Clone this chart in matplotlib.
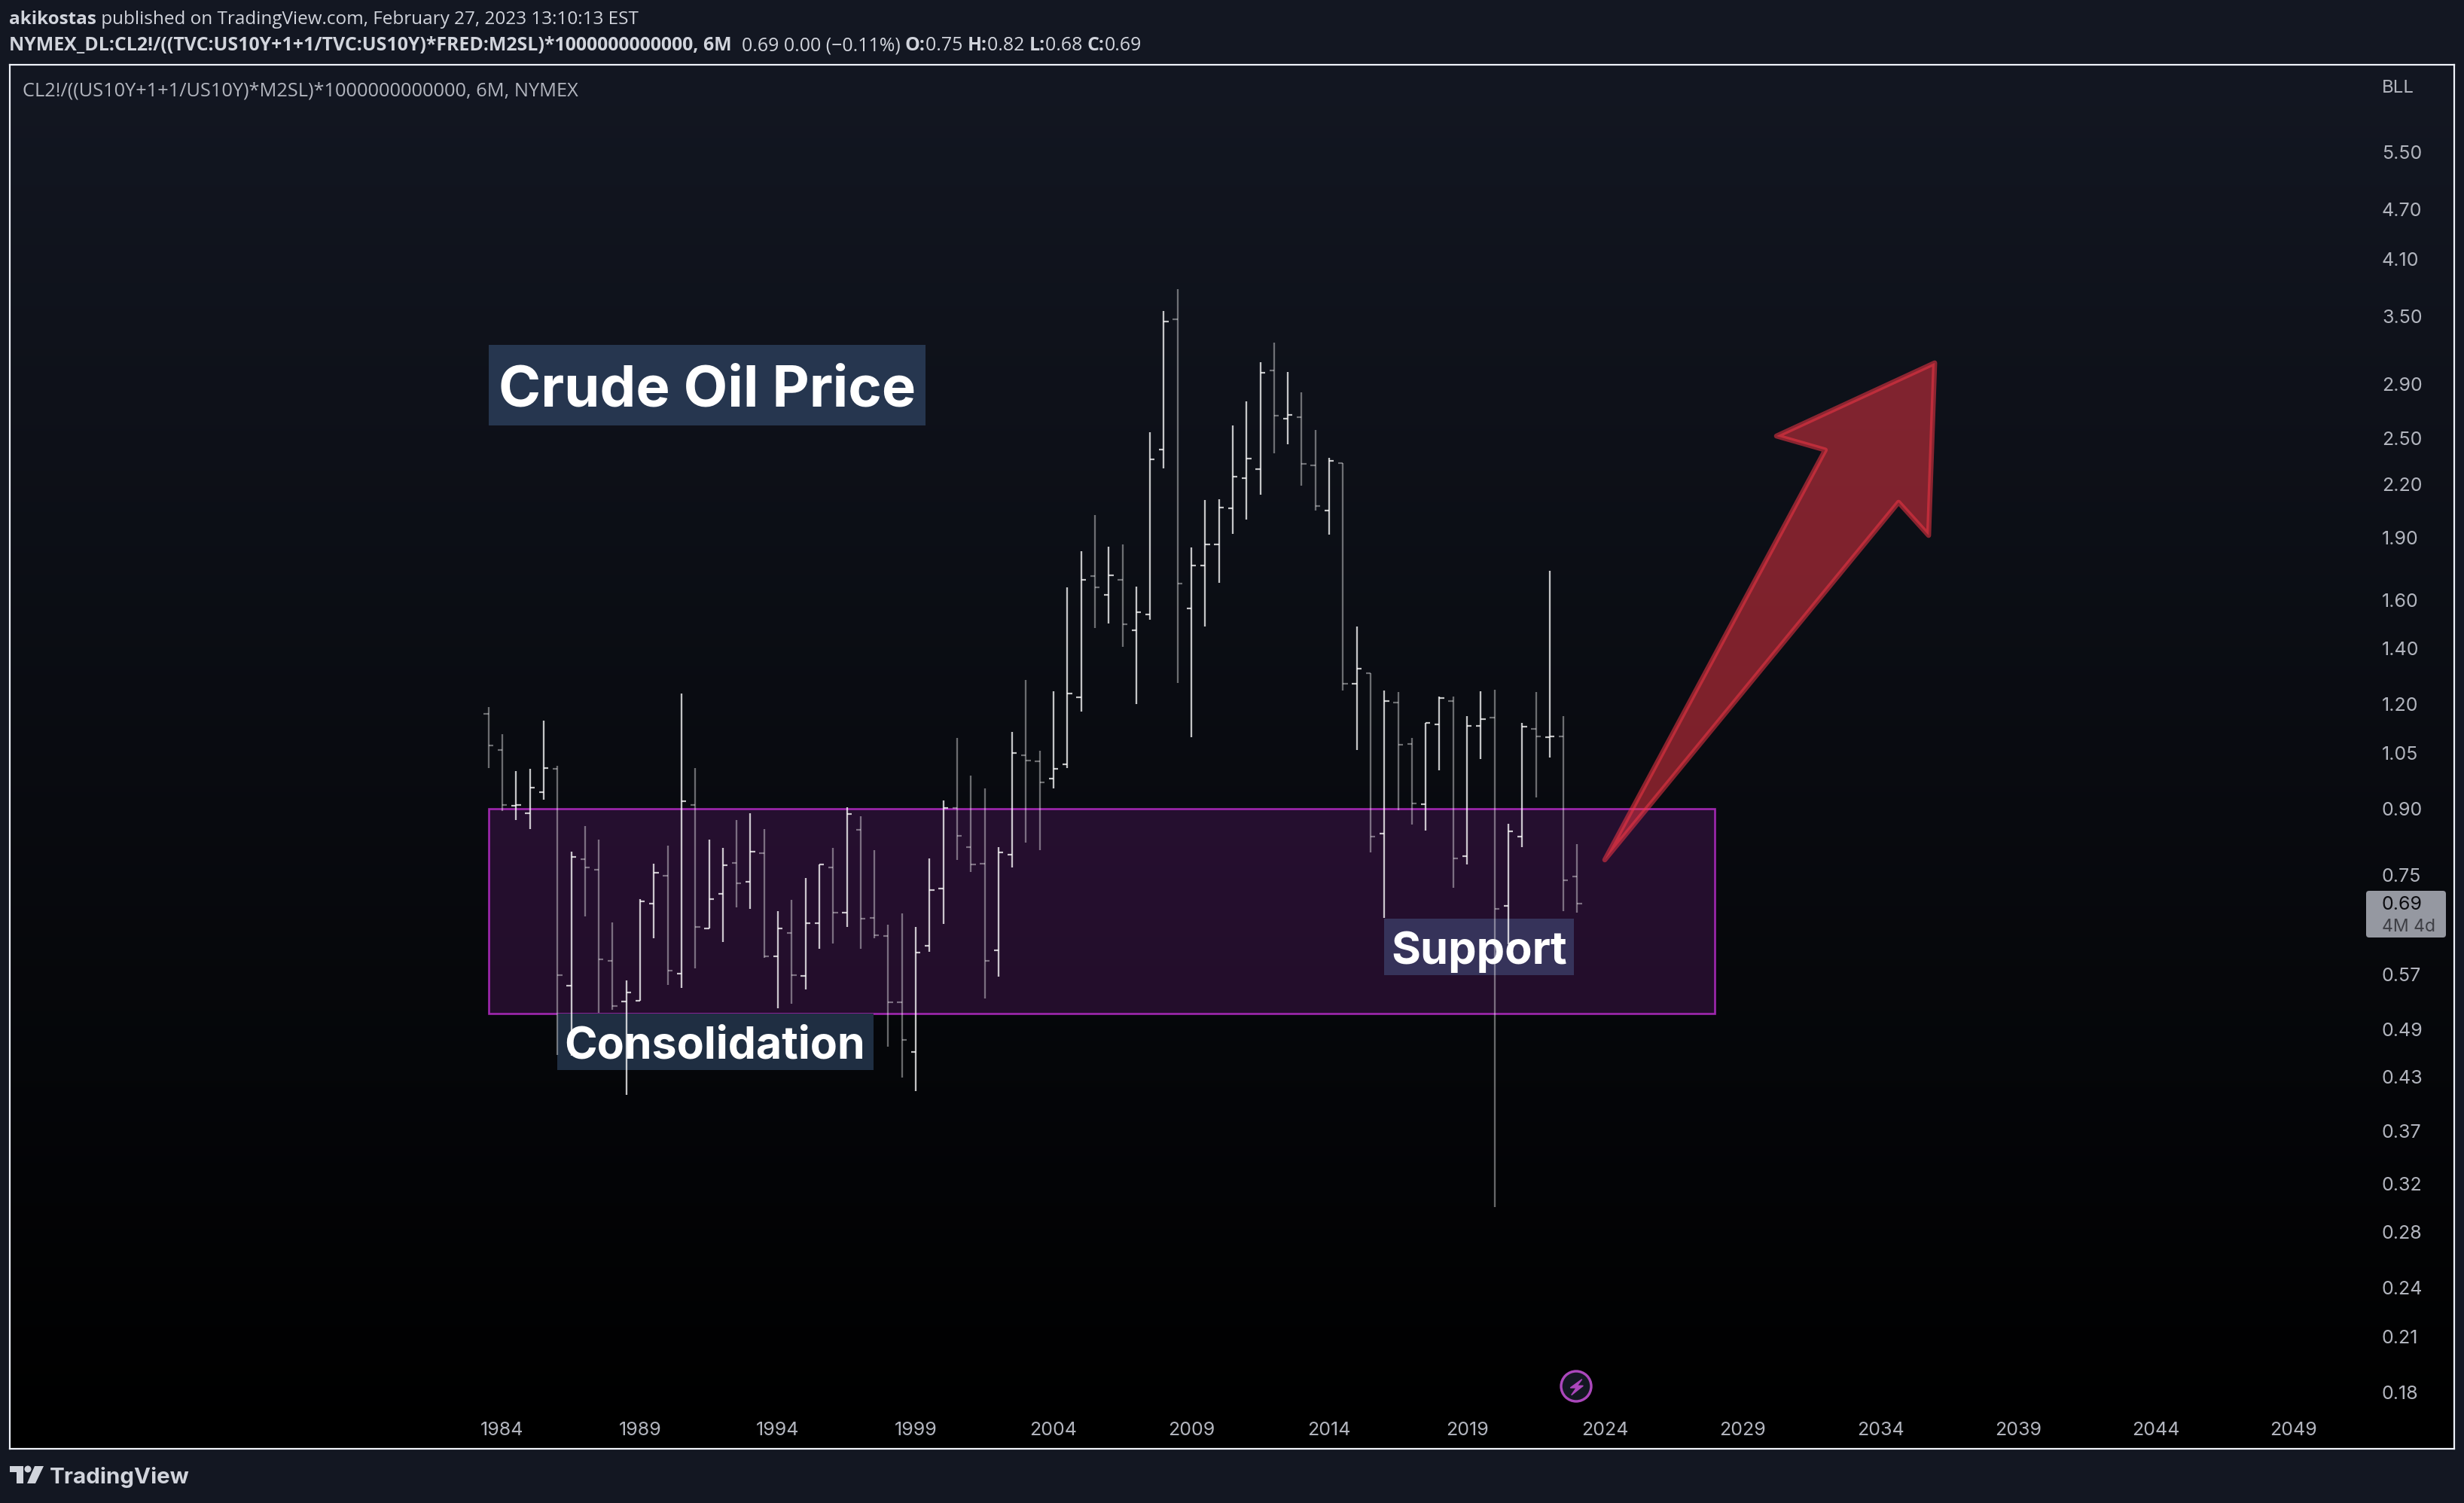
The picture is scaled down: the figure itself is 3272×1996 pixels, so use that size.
import numpy as np, matplotlib
matplotlib.use("Agg")
import matplotlib.pyplot as plt
from matplotlib.patches import Rectangle, Polygon, Circle, FancyBboxPatch
from matplotlib.transforms import IdentityTransform
from matplotlib.ticker import NullLocator, FixedLocator, FixedFormatter

first_period = 1983.5
period_years = 0.5
opens = [1.170,1.057,0.908,0.889,0.942,1.005,0.552,0.783,0.761,0.591,0.529,0.530,0.692,0.748,0.571,0.909,0.647,0.712,0.775,0.736,
         0.796,0.599,0.639,0.568,0.656,0.766,0.676,0.849,0.666,0.634,0.528,0.460,0.617,0.722,0.901,0.810,0.774,0.609,0.793,1.043,
         1.026,0.977,1.018,1.224,1.710,1.623,1.692,1.473,1.538,2.424,3.471,1.562,1.760,1.866,2.061,2.239,2.297,3.015,2.638,2.650,
         2.320,2.046,2.334,1.271,1.307,0.840,1.207,1.076,0.911,1.136,1.212,0.789,1.131,1.157,0.688,0.834,1.122,1.096,1.099,0.747]
highs = [1.190,1.106,0.999,1.005,1.147,1.012,0.799,0.857,0.826,0.657,0.560,0.702,0.773,0.812,1.236,1.006,0.826,0.807,0.873,0.888,
         0.850,0.679,0.700,0.743,0.772,0.807,0.903,0.882,0.802,0.654,0.674,0.649,0.784,0.920,1.093,0.985,0.951,0.809,1.112,1.283,
         1.055,1.244,1.657,1.830,2.023,1.854,1.866,1.661,2.540,3.549,3.769,1.849,2.107,2.112,2.588,2.766,3.080,3.252,2.999,2.835,
         2.555,2.367,2.336,1.487,1.307,1.247,1.241,1.093,1.140,1.225,1.225,1.161,1.243,1.249,0.863,1.140,1.241,1.733,1.161,0.817]
lows = [1.007,0.894,0.873,0.850,0.923,0.456,0.455,0.668,0.513,0.517,0.409,0.530,0.630,0.554,0.549,0.580,0.647,0.623,0.686,0.682,
        0.596,0.519,0.526,0.547,0.612,0.621,0.650,0.612,0.630,0.467,0.429,0.413,0.606,0.655,0.781,0.756,0.533,0.566,0.765,0.820,
        0.802,0.951,1.007,1.177,1.482,1.500,1.407,1.202,1.516,2.302,1.274,1.097,1.486,1.679,1.922,1.999,2.137,2.399,2.460,2.195,
        2.046,1.918,1.246,1.057,0.797,0.666,0.897,0.862,0.848,1.001,0.724,0.772,1.031,0.300,0.619,0.810,0.929,1.037,0.679,0.675]
closes = [1.072,0.910,0.910,0.954,1.007,0.569,0.788,0.766,0.594,0.522,0.542,0.697,0.754,0.576,0.919,0.650,0.702,0.770,0.733,0.799,
          0.599,0.647,0.569,0.656,0.772,0.676,0.886,0.665,0.635,0.528,0.476,0.605,0.719,0.901,0.835,0.771,0.591,0.798,1.050,1.028,
          0.968,1.005,1.237,1.692,1.657,1.713,1.497,1.548,2.359,3.451,1.674,1.760,1.866,2.065,2.249,2.364,2.995,2.662,2.666,2.329,
          2.075,2.350,1.269,1.323,0.834,1.212,1.074,0.913,1.140,1.221,0.785,1.131,1.152,0.683,0.846,1.129,1.099,1.099,0.739,0.693]
price_ticks = [5.50,4.70,4.10,3.50,2.90,2.50,2.20,1.90,1.60,1.40,1.20,1.05,0.90,0.75,0.57,0.49,0.43,0.37,0.32,0.28,0.24,0.21,0.18]
year_ticks = [1984,1989,1994,1999,2004,2009,2014,2019,2024,2029,2034,2039,2044,2049]
zone_years = [1983.5, 2028.0]
zone_prices = [0.5116, 0.90]
arrow_years = [2024.0,2032.0,2030.23,2035.97,2035.75,2034.66]
arrow_prices = [0.7815,2.42,2.515,3.077,1.912,2.095]

W,H = 3272,1996
BG='#131722'
SANS='Open Sans'
INTER='Inter'
pt = lambda px: px*72/100

fig = plt.figure(figsize=(W/100,H/100),dpi=100,facecolor=BG)
L,R,T,B = 13,3259,86,1923.5
rect=[L/W,1-B/H,(R-L)/W,(B-T)/H]
bgax=fig.add_axes(rect,zorder=-1); bgax.axis('off')
top=np.array([0x13,0x17,0x22])/255
grad=np.linspace(0,1,512)[:,None,None]*(-top)+top
bgax.imshow(grad,aspect='auto',interpolation='bilinear')

ax=fig.add_axes(rect); ax.patch.set_visible(False)
ax.set_yscale('log')
ax.set_xlim(1966.13,2054.82); ax.set_ylim(0.1542,7.001)

# zone
ax.add_patch(Rectangle((zone_years[0],zone_prices[0]),zone_years[1]-zone_years[0],zone_prices[1]-zone_prices[0],
    facecolor=(156/255,39/255,176/255,0.2),edgecolor=(0.66,0.16,0.72,0.95),linewidth=pt(2.6),zorder=1))

# label backgrounds (pixel placed annotations)
I=IdentityTransform()
def box(x0,y0,x1,y1,c,z=2):
    ax.add_patch(Rectangle((x0,H-y1),x1-x0,y1-y0,transform=I,facecolor=c,edgecolor='none',zorder=z))
box(649,458,1229,565,'#26364F')
box(740,1346,1160,1421,'#1F2E42')
box(1838,1220,2090,1295,'#36335A')

# bars
x=first_period+np.arange(len(opens))*period_years
o,h,l,c=map(np.array,(opens,highs,lows,closes))
up=c>=o
tick=0.172
for mask,alpha in ((up,0.76),(~up,0.40)):
    col=(1,1,1,alpha)
    ax.vlines(x[mask],l[mask],h[mask],colors=[col],linewidths=pt(2.3),capstyle='butt',zorder=3)
    ax.hlines(o[mask],x[mask]-tick,x[mask],colors=[col],linewidths=pt(2.2),capstyle='butt',zorder=3)
    ax.hlines(c[mask],x[mask],x[mask]+tick,colors=[col],linewidths=pt(2.2),capstyle='butt',zorder=3)

# arrow
red=(242/255,54/255,69/255)
pts=list(zip(arrow_years,arrow_prices))
ax.add_patch(Polygon(pts,closed=True,facecolor=red+(0.5,),edgecolor='none',zorder=4))
ax.add_patch(Polygon(pts,closed=True,facecolor='none',edgecolor=red+(0.55,),linewidth=pt(6.6),joinstyle='round',zorder=4))

# axes
for s in ax.spines.values():
    s.set_color('#F0F3FA'); s.set_linewidth(pt(2.2)); s.set_zorder(10)
ax.yaxis.tick_right()
ax.yaxis.set_major_locator(FixedLocator(price_ticks))
ax.yaxis.set_major_formatter(FixedFormatter([f"{v:.2f}" for v in price_ticks]))
ax.yaxis.set_minor_locator(NullLocator())
ax.xaxis.set_major_locator(FixedLocator(year_ticks))
ax.xaxis.set_major_formatter(FixedFormatter([str(y) for y in year_ticks]))
ax.xaxis.set_minor_locator(NullLocator())
ax.tick_params(axis='y',length=0,pad=-pt(96),labelcolor='#B2B5BE')
ax.tick_params(axis='x',length=0,pad=-pt(35.5),labelcolor='#B2B5BE')
for t in ax.get_yticklabels()+ax.get_xticklabels():
    t.set_fontfamily(INTER); t.set_fontsize(pt(25))
for t in ax.get_yticklabels():
    t.set_verticalalignment('center_baseline')

def text(xp,yp,s,size,color='#D1D4DC',family=SANS,weight='normal',ha='left',va='center',z=6):
    return ax.text(xp,H-yp,s,transform=I,fontsize=pt(size),color=color,family=family,weight=weight,ha=ha,va=va,zorder=z,clip_on=False)

# big labels
text(939,512,'Crude Oil Price',76,color='white',family=INTER,weight='bold',ha='center',va='center_baseline')
text(949,1384,'Consolidation',59,color='white',family=INTER,weight='bold',ha='center',va='center_baseline')
text(1964,1258,'Support',59.5,color='white',family=INTER,weight='bold',ha='center',va='center_baseline')

# price tag
ax.add_patch(FancyBboxPatch((3145,H-1245+3),100,56,boxstyle='round,pad=3,rounding_size=4',transform=I,facecolor='#9598A1',edgecolor='none',zorder=6))
text(3163,1202,'0.69',25,color='#0C0C10',family=INTER,z=7)
text(3163,1231,'4M 4d',23,color='#3E3F45',family=INTER,z=7)
text(3163,117,'BLL',24,color='#B2B5BE',family=INTER)
text(30,121,'CL2!/((US10Y+1+1/US10Y)*M2SL)*1000000000000, 6M, NYMEX',25.4,color='#B2B5BE')

# header runs
r=fig.canvas.get_renderer()
def run(xp,yp,parts,size):
    for s,weight,col in parts:
        t=text(xp,yp,s,size,color=col,weight=weight,va='baseline')
        fp=t.get_fontproperties()
        w,_,_=r.get_text_width_height_descent(s,fp,False)
        xp+=w
HC='#D1D4DC'
run(12,32,[('akikostas','bold',HC),(' published on TradingView.com, February 27, 2023 13:10:13 EST','normal',HC)],24.3)
run(12,67,[('NYMEX_DL:CL2!/((TVC:US10Y+1+1/TVC:US10Y)*FRED:M2SL)*1000000000000, 6M','bold',HC),
           ('  0.69 0.00 (\u22120.11%) ','normal',HC),('O:','bold',HC),('0.75 ','normal',HC),('H:','bold',HC),('0.82 ','normal',HC),
           ('L:','bold',HC),('0.68 ','normal',HC),('C:','bold',HC),('0.69','normal',HC)],24.95)

# logo
def poly(p,c,z=7,lw=0):
    ax.add_patch(Polygon([(a,H-b) for a,b in p],closed=True,transform=I,facecolor=c,edgecolor=c if lw else 'none',linewidth=lw,zorder=z,clip_on=False))
LC='#D1D4DC'
poly([(13,1947),(31,1947),(31,1970),(22,1970),(22,1955),(13,1955)],LC)
ax.add_patch(Circle((37,H-1951),4.5,transform=I,facecolor=LC,edgecolor='none',clip_on=False,zorder=7))
poly([(46,1947),(58,1947),(47,1970),(36,1970)],LC)
text(66,1962,'TradingView',29.6,color=LC,family=INTER,weight='bold')

# lightning
ax.add_patch(Circle((2093,H-1841),20,transform=I,facecolor='#131722',edgecolor='#AB47BC',linewidth=pt(3.4),zorder=6))
poly([(2100.7,1831.7),(2085.3,1843),(2093.3,1843),(2086.7,1852.7),(2102.3,1840.3),(2094.3,1840.3)],'#AB47BC',lw=pt(1.4))

fig.savefig('out.png',dpi=100,facecolor=BG)
